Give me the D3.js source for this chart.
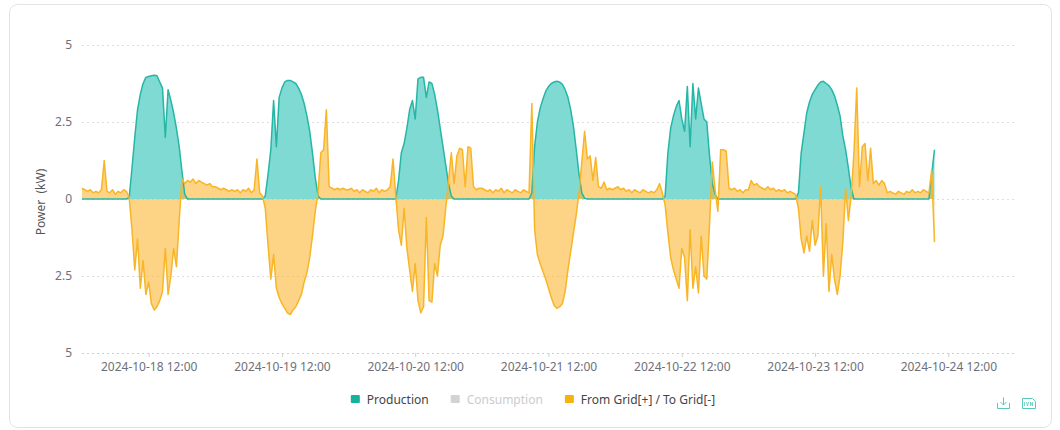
<!DOCTYPE html>
<html>
<head>
<meta charset="utf-8">
<title>Power</title>
<script src="https://d3js.org/d3.v7.min.js"></script>
<style>
  html, body { margin: 0; padding: 0; background: #fff; }
  body { font-family: "Noto Sans", sans-serif; }
  #chart svg { display: block; }
</style>
</head>
<body>
<div id="chart"></div>
<script>
// half-hour readings (kW), one array per day, starting 00:00
const prod18 = [0,0,0,0,0,0,0,0,0,0,0,0,0,0,0,0,0,
  0.05,1.0,2.0,2.9,3.4,3.75,3.95,3.98,4.0,4.02,4.0,3.8,3.6,2.0,3.55,3.2,2.8,2.3,1.7,0.9,0.15,
  0,0,0,0,0,0,0,0,0,0];
const prod19 = [0,0,0,0,0,0,0,0,0,0,0,0,0,0,0,0,0,0,
  0.1,0.8,1.6,3.2,1.7,3.3,3.6,3.8,3.85,3.85,3.8,3.75,3.6,3.4,3.1,2.7,2.2,1.5,0.7,0.1,
  0,0,0,0,0,0,0,0,0,0];
const prod20 = [0,0,0,0,0,0,0,0,0,0,0,0,0,0,0,0,0,0,
  0.6,1.5,1.8,2.3,2.9,3.2,2.6,3.9,3.95,3.95,3.3,3.8,3.75,3.4,2.9,2.3,1.7,1.1,0.5,0.1,
  0,0,0,0,0,0,0,0,0,0];
const prod21 = [0,0,0,0,0,0,0,0,0,0,0,0,0,0,0,0,0,0,
  0.2,1.7,2.5,2.95,3.25,3.5,3.65,3.75,3.8,3.82,3.8,3.72,3.55,3.3,2.9,2.35,1.6,0.8,0.2,0.02,
  0,0,0,0,0,0,0,0,0,0];
const prod22 = [0,0,0,0,0,0,0,0,0,0,0,0,0,0,0,0,0,0,
  0.1,1.5,2.3,2.7,3.0,3.2,2.6,2.2,3.65,1.7,3.75,2.6,3.6,3.1,2.6,2.5,1.4,0.5,0.15,
  0,0,0,0,0,0,0,0,0,0,0];
const prod23 = [0,0,0,0,0,0,0,0,0,0,0,0,0,0,0,0,0,0,
  0.2,1.5,2.15,2.8,3.15,3.4,3.55,3.7,3.8,3.82,3.75,3.68,3.55,3.35,3.05,2.7,2.05,1.6,1.0,0.35,
  0,0,0,0,0,0,0,0,0,0];
const prod24 = [0,0,0,0,0,0,0,0,0,0,0,0,0,0,0,0,0,0, 0.8,1.6];

const grid18 = [0.35,0.3,0.25,0.3,0.2,0.25,0.2,0.3,1.25,0.25,0.2,0.3,0.15,0.25,0.2,0.3,0.25,
  0.05,-1.0,-2.3,-1.3,-2.9,-2.0,-3.1,-2.7,-3.4,-3.6,-3.5,-3.3,-3.0,-1.6,-3.1,-2.5,-1.6,-2.2,-0.7,
  0.65,0.5,0.6,0.55,0.65,0.5,0.6,0.55,0.5,0.45,0.5,0.4];
const grid19 = [0.4,0.35,0.3,0.35,0.3,0.25,0.3,0.25,0.3,0.2,0.3,0.25,0.35,0.2,0.3,1.3,0.2,0.1,
  -0.3,-1.5,-2.6,-1.8,-2.9,-3.2,-3.4,-3.55,-3.7,-3.75,-3.6,-3.5,-3.3,-3.1,-2.7,-2.4,-1.9,-1.2,-0.4,
  0.2,1.5,1.6,2.9,0.4,0.35,0.3,0.35,0.3,0.35,0.3];
const grid20 = [0.3,0.35,0.25,0.3,0.2,0.3,0.25,0.2,0.3,0.25,0.35,0.2,0.3,0.25,0.3,0.4,1.3,0.1,
  -1.0,-1.5,-0.3,-1.6,-2.3,-3.0,-2.1,-3.3,-3.7,-3.5,-0.6,-3.3,-3.35,-2.1,-2.5,-1.5,-1.2,-0.3,
  0.6,1.5,0.5,1.4,1.65,1.6,0.4,1.7,1.65,0.4,0.3,0.35];
const grid21 = [0.35,0.3,0.25,0.3,0.2,0.3,0.25,0.35,0.2,0.3,0.25,0.2,0.3,0.25,0.2,0.3,0.25,0.2,
  3.1,-1.0,-1.8,-2.1,-2.35,-2.6,-2.9,-3.2,-3.45,-3.55,-3.5,-3.4,-3.0,-2.3,-1.7,-1.1,-0.5,
  0.2,1.2,2.2,1.3,1.4,0.6,1.35,0.4,0.35,0.55,0.3,0.35,0.3];
const grid22 = [0.35,0.4,0.3,0.35,0.25,0.3,0.2,0.3,0.25,0.2,0.3,0.25,0.2,0.25,0.2,0.3,0.5,0.2,
  -0.2,-1.1,-1.9,-2.3,-2.6,-2.9,-1.6,-1.9,-3.3,-1.0,-2.9,-2.2,-3.05,-1.2,-2.5,-2.6,-0.8,
  1.2,0.3,-0.4,1.6,1.6,1.55,0.35,0.3,0.35,0.25,0.3,0.2,0.3];
const grid23 = [0.3,0.6,0.45,0.5,0.4,0.35,0.3,0.4,0.3,0.35,0.25,0.3,0.25,0.3,0.2,0.25,0.2,0.15,
  -0.3,-1.3,-1.75,-1.2,-1.7,-0.7,-1.5,-1.2,0.4,-2.5,-0.8,-3.0,-1.8,-2.6,-3.1,-2.5,-1.4,0.35,-0.7,0.1,
  1.5,3.6,0.4,1.7,1.8,0.6,1.65,0.5,0.6,0.45];
const grid24 = [0.6,0.5,0.2,0.25,0.2,0.15,0.25,0.2,0.15,0.25,0.2,0.3,0.2,0.25,0.2,0.3,0.25,0.2, 0.95,-1.4];

const tickLabels = ["2024-10-18 12:00","2024-10-19 12:00","2024-10-20 12:00","2024-10-21 12:00",
  "2024-10-22 12:00","2024-10-23 12:00","2024-10-24 12:00"];
const yTicks = [-5, -2.5, 0, 2.5, 5];
const legendNames = ["Production", "Consumption", "From Grid[+] / To Grid[-]"];

const production = [].concat(prod18, prod19, prod20, prod21, prod22, prod23, prod24);
const grid = [].concat(grid18, grid19, grid20, grid21, grid22, grid23, grid24);

const width = 1060, height = 430;
const parse = d3.timeParse("%Y-%m-%d %H:%M");
const t0 = parse("2024-10-18 00:00");
const times = production.map((d, i) => new Date(t0.getTime() + i * 30 * 60000));

const x = d3.scaleTime()
  .domain([t0, parse("2024-10-25 00:00")])
  .range([82, 1015]);
const y = d3.scaleLinear().domain([-5, 5]).range([353, 45]);

const svg = d3.select("#chart").append("svg")
  .attr("width", width)
  .attr("height", height);

// card
svg.append("rect")
  .attr("x", 9.5).attr("y", 4.5)
  .attr("width", 1042).attr("height", 423)
  .attr("rx", 8)
  .attr("fill", "#fff")
  .attr("stroke", "#e3e3e3");

// grid lines
svg.append("g").selectAll("line")
  .data(yTicks)
  .join("line")
  .attr("x1", 82).attr("x2", 1015)
  .attr("y1", d => Math.round(y(d)) + 0.5)
  .attr("y2", d => Math.round(y(d)) + 0.5)
  .attr("stroke", d => d === -5 ? "#cfcfcf" : "#dedede")
  .attr("stroke-dasharray", "2,3");

// y axis labels
const yAxis = svg.append("g")
  .attr("transform", "translate(82,0)")
  .call(d3.axisLeft(y).tickValues(yTicks).tickFormat(d => Math.abs(d)).tickSize(0).tickPadding(10));
yAxis.select(".domain").remove();
yAxis.selectAll("text")
  .attr("fill", "#6e7079")
  .style("font-family", "'Noto Sans', sans-serif")
  .style("font-size", "12px");

svg.append("text")
  .attr("transform", "translate(40,202) rotate(-90)")
  .attr("text-anchor", "middle")
  .attr("dominant-baseline", "central")
  .attr("xml:space", "preserve")
  .attr("fill", "#555")
  .style("font-size", "12px")
  .style("white-space", "pre")
  .text("Power  (kW)");

// x axis
const xAxis = svg.append("g")
  .attr("transform", "translate(0,353)")
  .call(d3.axisBottom(x)
    .tickValues(tickLabels.map(parse))
    .tickFormat(d3.timeFormat("%Y-%m-%d %H:%M"))
    .tickSize(4)
    .tickPadding(5));
xAxis.select(".domain").remove();
xAxis.selectAll(".tick line").attr("stroke", "#cfcfcf");
xAxis.selectAll("text")
  .attr("fill", "#6e7079")
  .style("font-family", "'Noto Sans', sans-serif")
  .style("font-size", "12px");

// series
const seriesArea = d3.area().x((d, i) => x(times[i])).y0(y(0)).y1(d => y(d));
const seriesLine = d3.line().x((d, i) => x(times[i])).y(d => y(d));

svg.append("path")
  .datum(production)
  .attr("d", seriesArea)
  .attr("fill", "#7fdad3");

svg.append("path")
  .datum(grid)
  .attr("d", seriesArea)
  .attr("fill", "#fbb52c")
  .attr("fill-opacity", 0.58);

svg.append("path")
  .datum(production)
  .attr("d", seriesLine)
  .attr("fill", "none")
  .attr("stroke", "#26b6a6")
  .attr("stroke-width", 1.5)
  .attr("stroke-linejoin", "round");

svg.append("path")
  .datum(grid)
  .attr("d", seriesLine)
  .attr("fill", "none")
  .attr("stroke", "#f8b526")
  .attr("stroke-width", 1.5)
  .attr("stroke-linejoin", "round");

// legend
const legendColors = ["#14b39e", "#d3d3d3", "#f9b10f"];
const legendText = ["#444", "#cccccc", "#444"];
const legend = svg.append("g").style("font-size", "12px");
let lx = 0;
legendNames.forEach((name, i) => {
  const g = legend.append("g");
  g.append("rect")
    .attr("x", 0).attr("y", -4)
    .attr("width", 9).attr("height", 8)
    .attr("rx", 1)
    .attr("fill", legendColors[i]);
  const t = g.append("text")
    .attr("x", 16)
    .attr("dominant-baseline", "central")
    .attr("fill", legendText[i])
    .text(name);
  const w = 16 + t.node().getComputedTextLength();
  g.attr("transform", `translate(${lx},0)`);
  lx += w + 22;
});
const legendWidth = lx - 22;
legend.attr("transform", `translate(${533 - legendWidth / 2},399)`);

// toolbox icons
const tool = svg.append("g")
  .attr("fill", "none")
  .attr("stroke", "#5cc8bb")
  .attr("stroke-width", 1);
tool.append("path").attr("d", "M1003.5,397.5 V405 M1000.5,402 L1003.5,405 L1006.5,402 M997.5,403 V408.5 H1009.5 V403");
tool.append("path").attr("d", "M1022.5,398.5 H1032.5 L1035.5,401.5 V408.5 H1022.5 Z");
tool.append("path").attr("d", "M1024.5,402 V406 M1026.5,402 L1027.5,406 L1028.5,402 M1030.5,406 V402 L1032.5,406 V402")
  .attr("stroke-width", 0.8);
</script>
</body>
</html>
